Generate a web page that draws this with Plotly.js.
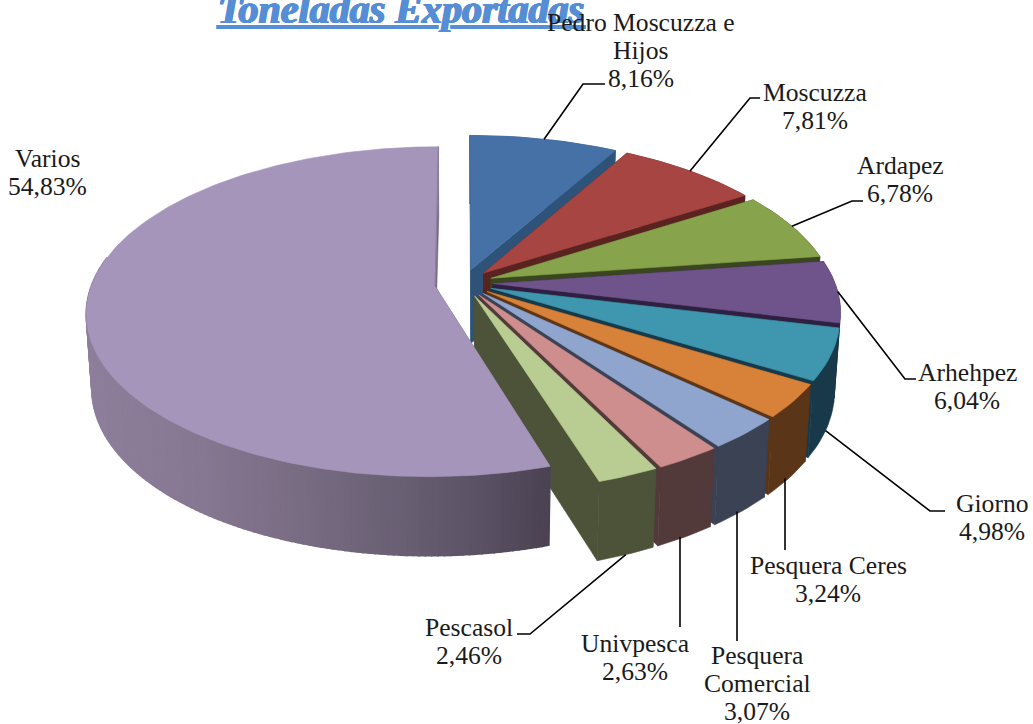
<!DOCTYPE html>
<html>
<head>
<meta charset="utf-8">
<script src="https://cdn.plot.ly/plotly-3.0.1.min.js"></script>
<style>html,body{margin:0;padding:0;background:#fff;overflow:hidden}#chart{width:1033px;height:724px}</style>
</head>
<body>
<div id="chart"></div>
<script>
// ---- data ----
const nameLines = [["Pedro Moscuzza e","Hijos"],["Moscuzza"],["Ardapez"],["Arhehpez"],["Giorno"],["Pesquera Ceres"],["Pesquera","Comercial"],["Univpesca"],["Pescasol"],["Varios"]];
const shares = [8.16,7.81,6.78,6.04,4.98,3.24,3.07,2.63,2.46,54.83];
const topColors = ["#4571A7","#A64541","#87A34C","#6F548C","#3E96AF","#D88139","#8FA5CE","#CF8E8E","#B9CC92","#A695BA"];
const wallColors = ["#2F5378","#5A2320","#39461F","#2E2040","#17394A","#5A3517","#3B4254","#523A3A","#4C5339","#6E6180"];
const labelX = [641,815,900,967,992,828,757,635,469,47];
const labelFirstLineY = [22,92,165,372,503,565,655,643,627,158];
// leader elbows: [elbow x, elbow y, end x, end y]; null for Varios, which has none
const leaderEnds = [[583,84,605,84],[750,98,760,98],[852,201,863,201],[905,379,916,379],[930,511,945,511],[785,550,785,550],[737,641,737,641],[680,627,680,627],[530,634,517,634],null];
const leaderOnBottomRim = [false,false,false,false,true,true,true,true,true,false];

// ---- projection of the tilted pie ----
const view = {ox:463.5, oy:283, rx:342, ry:160, k:0.161, explode:0.086, depth:74, depthTilt:-5, bottomScale:0.985, linePitch:28.4};
function proj(u,v){const d=1+view.k*v;return [view.ox+view.rx*u/d, view.oy-view.ry*v/d];}
function lower(p,v){return [view.ox+(p[0]-view.ox)*view.bottomScale, p[1]+view.depth+view.depthTilt*v];}
function rad(pct){return pct/100*2*Math.PI;}

const total = shares.reduce((a,b)=>a+b,0);
const slices = [];
let acc = 0;
shares.forEach((s,i)=>{
  const a0=acc/total*100, a1=(acc+s)/total*100; acc+=s;
  const mid=rad((a0+a1)/2);
  slices.push({i,a0,a1,eu:view.explode*Math.sin(mid),ev:view.explode*Math.cos(mid)});
});
function rim(sl,pct){const a=rad(pct);const u=sl.eu+Math.sin(a),v=sl.ev+Math.cos(a);return {top:proj(u,v),bot:lower(proj(u,v),v),v};}
function apex(sl){return {top:proj(sl.eu,sl.ev),bot:lower(proj(sl.eu,sl.ev),sl.ev)};}

const traces=[];
function poly(pts,color,w){
  traces.push({type:"scatter",mode:"lines",x:pts.map(p=>p[0]),y:pts.map(p=>p[1]),fill:"toself",fillcolor:color,
    line:{color:color,width:w||0.6},hoverinfo:"skip",showlegend:false});
}
function rimSteps(sl,n){const out=[];for(let j=0;j<=n;j++)out.push(rim(sl,sl.a0+(sl.a1-sl.a0)*j/n));return out;}
function mix(a,b,t){return "rgb("+a.map((c,i)=>Math.round(c+(b[i]-c)*t)).join(",")+")";}

function drawSlice(sl){
  const ap=apex(sl), n=Math.max(8,Math.round((sl.a1-sl.a0)*2));
  const steps=rimSteps(sl,sl.i===9?n*2:n), wall=wallColors[sl.i], last=steps.length-1;
  const s=steps[0], e=steps[last];
  poly([ap.top,s.top,s.bot,ap.bot,ap.top],wall);
  poly([ap.top,e.top,e.bot,ap.bot,ap.top],wall);
  if(sl.i===9){
    const stops=[[80,[142,127,156]],[200,[134,119,146]],[300,[120,108,130]],[400,[105,95,115]],[480,[90,82,100]],[550,[74,66,82]]];
    for(let j=0;j<last;j++){
      const xm=(steps[j].top[0]+steps[j+1].top[0])/2;
      let c=mix(stops[0][1],stops[0][1],0);
      for(let q=0;q<stops.length-1;q++){
        if(xm>=stops[q][0]&&xm<=stops[q+1][0]){c=mix(stops[q][1],stops[q+1][1],(xm-stops[q][0])/(stops[q+1][0]-stops[q][0]));}
      }
      if(steps[j].v<0.15||steps[j+1].v<0.15) poly([steps[j].top,steps[j+1].top,steps[j+1].bot,steps[j].bot,steps[j].top],c,1.6);
    }
  } else {
    poly(steps.map(p=>p.top).concat(steps.slice().reverse().map(p=>p.bot)).concat([steps[0].top]),wall);
  }
  poly([ap.top].concat(steps.map(p=>p.top)).concat([ap.top]),topColors[sl.i]);
}
slices.forEach(drawSlice);

(function(){const sl=slices[9],ap=apex(sl),r=rim(sl,sl.a1);
  traces.push({type:"scatter",mode:"lines",x:[ap.top[0]+1,r.top[0]],y:[ap.top[1],r.top[1]],line:{color:"#8E7FA2",width:1.5},hoverinfo:"skip",showlegend:false});
})();

slices.forEach(sl=>{
  const le=leaderEnds[sl.i]; if(!le) return;
  const r=rim(sl,(sl.a0+sl.a1)/2), p=leaderOnBottomRim[sl.i]?r.bot:r.top;
  const vertical=le[0]===le[2]&&le[1]===le[3];
  const sx=vertical?le[0]:p[0];
  traces.push({type:"scatter",mode:"lines",x:[sx,le[0],le[2]],y:[p[1],le[1],le[3]],line:{color:"#000",width:1.6},hoverinfo:"skip",showlegend:false});
});

const annotations=[];
slices.forEach(sl=>{
  const lines=nameLines[sl.i].concat([shares[sl.i].toFixed(2).replace(".",",")+"%"]);
  lines.forEach((t,k)=>annotations.push({
    xref:"x",yref:"y",x:labelX[sl.i],y:labelFirstLineY[sl.i]+k*view.linePitch,xanchor:"center",yanchor:"middle",align:"center",showarrow:false,
    text:t,font:{family:"Liberation Serif",size:25.6,color:"#1a1a1a"}
  }));
});

const layout={
  width:1033,height:724,margin:{l:0,r:0,t:0,b:0},paper_bgcolor:"#fff",plot_bgcolor:"#fff",showlegend:false,
  title:{text:"<b><i>Toneladas Exportadas</i></b>",x:401/1033,xanchor:"center",xref:"paper",y:1-23/724,yref:"container",yanchor:"bottom",
    font:{family:"Liberation Serif",size:40,color:"#558ED5",lineposition:"under",shadow:"0.8px 0 0 #558ED5, -0.8px 0 0 #558ED5"}},
  xaxis:{range:[0,1033],visible:false,fixedrange:true},
  yaxis:{range:[724,0],visible:false,fixedrange:true},
  annotations
};
Plotly.newPlot("chart",traces,layout,{displayModeBar:false,staticPlot:true});
</script>
</body>
</html>
